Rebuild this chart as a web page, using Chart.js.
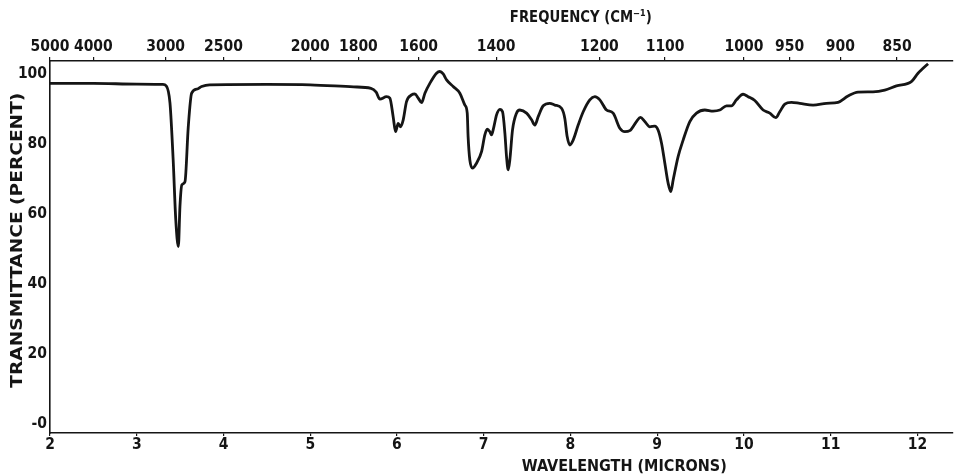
<!DOCTYPE html>
<html><head><meta charset="utf-8">
<script src="https://cdn.jsdelivr.net/npm/chart.js@4/dist/chart.umd.min.js"></script>
<style>html,body{margin:0;padding:0;background:#fff}canvas{display:block}</style>
</head><body>
<canvas id="c" width="954" height="476"></canvas>
<script>
// Wavelength (microns) and transmittance (percent)
const wavelength = [
  2.0, 2.5, 3.0, 3.3, 3.34, 3.383, 3.42, 3.45, 3.48, 3.498, 3.52, 3.556, 3.594, 3.633, 3.70, 3.748, 3.84,
  4.5, 5.0, 5.5, 5.7, 5.76, 5.803, 5.88, 5.918, 5.956, 5.984, 6.014, 6.04, 6.072, 6.11, 6.168, 6.206, 6.245,
  6.284, 6.322, 6.379, 6.456, 6.494, 6.533, 6.572, 6.648, 6.725, 6.783, 6.81, 6.82, 6.84, 6.871, 6.917,
  6.975, 7.013, 7.04, 7.071, 7.09, 7.117, 7.148, 7.186, 7.217, 7.244, 7.263, 7.282, 7.301, 7.332, 7.378,
  7.416, 7.494, 7.552, 7.59, 7.628, 7.686, 7.762, 7.82, 7.897, 7.935, 7.962, 7.993, 8.031, 8.089, 8.147,
  8.223, 8.281, 8.339, 8.416, 8.492, 8.569, 8.627, 8.684, 8.761, 8.807, 8.857, 8.915, 8.972, 9.01, 9.05,
  9.088, 9.126, 9.157, 9.184, 9.241, 9.299, 9.376, 9.453, 9.549, 9.644, 9.722, 9.799, 9.856, 9.914, 9.99,
  10.048, 10.125, 10.221, 10.298, 10.367, 10.413, 10.471, 10.548, 10.644, 10.797, 10.951, 11.085, 11.2,
  11.315, 11.488, 11.623, 11.758, 11.93, 12.007, 12.065, 12.122
];
const transmittance = [
  97.3, 97.3, 97.1, 97.0, 96.6, 91.7, 75.4, 58.3, 50.7, 62.1, 68.3, 69.2, 84.9, 94.5, 95.7, 96.4, 96.9,
  97.0, 96.9, 96.3, 95.9, 94.8, 92.8, 93.5, 93.1, 87.8, 83.5, 85.9, 84.9, 86.9, 92.1, 94.0, 94.3, 93.1,
  91.8, 94.5, 97.3, 100.2, 100.7, 100.0, 98.3, 96.4, 94.5, 91.1, 88.8, 82.1, 75.4, 73.1, 74.5,
  77.8, 82.6, 84.2, 83.5, 82.6, 84.9, 88.3, 89.9, 89.2, 83.1, 76.4, 72.6, 75.4, 84.0, 88.8,
  89.7, 88.8, 86.9, 85.4, 87.8, 90.9, 91.6, 91.1, 90.2, 87.3, 82.1, 79.7, 81.1, 85.4, 89.2,
  92.6, 93.5, 92.6, 89.7, 88.8, 84.5, 83.5, 83.8, 86.4, 87.6, 86.4, 84.9, 85.1, 84.0, 80.2,
  74.5, 68.8, 66.4, 69.7, 76.4, 81.1, 86.4, 88.8, 89.7, 89.4, 89.7, 90.9, 90.9, 92.6, 94.2,
  93.5, 92.4, 89.7, 88.8, 87.5, 89.2, 91.4, 91.9, 91.6, 91.1, 91.6, 91.9, 93.7,
  94.8, 94.9, 95.4, 96.6, 97.8, 100.2, 101.6, 102.9
];
const wavelengthTicks = [2, 3, 4, 5, 6, 7, 8, 9, 10, 11, 12];
const frequencyTicks = [5000, 4000, 3000, 2500, 2000, 1800, 1600, 1400, 1200, 1100, 1000, 950, 900, 850];
const transmittanceTicks = [0, 20, 40, 60, 80, 100];
const transmittanceTickLabels = ['-0', '20', '40', '60', '80', '100'];
const xTitle = 'WAVELENGTH (MICRONS)';
const topTitle = 'FREQUENCY (CM⁻¹)';
const yTitle = 'TRANSMITTANCE (PERCENT)';

const FONT = "'DejaVu Sans Condensed','Liberation Sans Narrow','Liberation Sans',sans-serif";
const INK = '#151515';
const tickFont = { family: FONT, size: 15.5, weight: 'bold' };

function drawFit(ctx, text, cx, cy, width, rot) {
  ctx.save();
  ctx.translate(cx, cy);
  if (rot) ctx.rotate(rot);
  const w = ctx.measureText(text).width;
  ctx.scale(width / w, 1);
  ctx.fillText(text, 0, 0);
  ctx.restore();
}

const titlePlugin = {
  id: 'titles',
  beforeDraw(chart) {
    const ctx = chart.ctx;
    ctx.save();
    ctx.fillStyle = '#fff';
    ctx.fillRect(0, 0, chart.width, chart.height);
    ctx.restore();
  },
  afterDraw(chart) {
    const ctx = chart.ctx;
    const xs = chart.scales.x, ys = chart.scales.y;
    ctx.save();
    ctx.fillStyle = INK;
    ctx.font = "bold 16.5px " + FONT;
    ctx.textAlign = 'center';
    ctx.textBaseline = 'middle';
    drawFit(ctx, xTitle, xs.getPixelForValue(8.62), 467, 205);
    drawFit(ctx, topTitle, xs.getPixelForValue(8.12), 18, 142);
    drawFit(ctx, yTitle, 18, ys.getPixelForValue(52.5), 295, -Math.PI / 2);
    ctx.restore();
  }
};

new Chart(document.getElementById('c'), {
  type: 'line',
  data: {
    datasets: [{
      data: wavelength.map((w, i) => ({ x: w, y: transmittance[i] })),
      borderColor: INK,
      borderWidth: 2.8,
      pointRadius: 0,
      fill: false,
      cubicInterpolationMode: 'monotone',
      xAxisID: 'x',
      yAxisID: 'y'
    }]
  },
  options: {
    responsive: false,
    devicePixelRatio: 1,
    animation: false,
    layout: { padding: { left: 0, right: 1, top: 0, bottom: 0 } },
    plugins: { legend: { display: false }, tooltip: { enabled: false }, title: { display: false } },
    scales: {
      x: {
        type: 'linear', position: 'bottom', min: 2, max: 12.41,
        afterBuildTicks: s => { s.ticks = wavelengthTicks.map(v => ({ value: v })); },
        afterFit: s => { s.height = 43; },
        ticks: { font: tickFont, color: INK, padding: 0, maxRotation: 0, autoSkip: false },
        grid: { drawOnChartArea: false, drawTicks: true, tickLength: 3, color: INK, lineWidth: 1.2 },
        border: { color: INK, width: 1.6 }
      },
      x2: {
        type: 'linear', position: 'top', min: 2, max: 12.41,
        afterBuildTicks: s => { s.ticks = frequencyTicks.map(f => ({ value: 10000 / f })); },
        afterFit: s => { s.height = 61; },
        ticks: { font: tickFont, color: INK, padding: 1, maxRotation: 0, autoSkip: false,
                 callback: (v, i) => String(frequencyTicks[i]) },
        grid: { drawOnChartArea: false, drawTicks: true, tickLength: 4, color: INK, lineWidth: 1.2 },
        border: { color: INK, width: 1.6 }
      },
      y: {
        type: 'linear', position: 'left', min: -2.6, max: 103.7,
        afterBuildTicks: s => { s.ticks = transmittanceTicks.map(v => ({ value: v })); },
        afterFit: s => { s.width = 50; },
        ticks: { font: tickFont, color: INK, padding: 3,
                 callback: (v, i) => transmittanceTickLabels[i] },
        grid: { drawOnChartArea: false, drawTicks: false },
        border: { color: INK, width: 1.6 }
      }
    }
  },
  plugins: [titlePlugin]
});
</script>
</body></html>
